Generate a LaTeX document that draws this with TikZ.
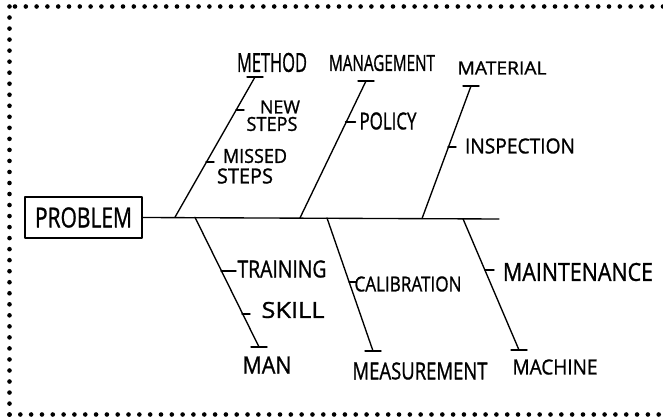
\documentclass[tikz,border=0pt]{standalone}
\usepackage{fontspec}
\setmainfont{Open Sans}
\newfontfamily\handfont{Open Sans}[FakeBold=1.2]
% \hw{width}{height}{text}: caps text stretched to a given ink box
\newcommand{\hw}[3]{\resizebox{#1pt}{#2pt}{\handfont #3}}
\begin{document}
\begin{tikzpicture}[x=1pt,y=-1pt,
  pen/.style={line width=1.35pt, line cap=round, line join=round},
  lbl/.style={inner sep=0pt, outer sep=0pt},
  frame dot/.style={fill=black}]
\useasboundingbox (0,0) rectangle (663,419);

% dotted frame (top, left and bottom)
\foreach \k in {0,...,60} \fill[frame dot] (15+10.8*\k,6.5) circle (2.3);
\foreach \k in {0,...,37} \fill[frame dot] (9.5,6.5+11.03*\k) circle (2.3);
\foreach \k in {0,...,60} \fill[frame dot] (9.5+10.82*\k,414.5) circle (2.3);

% head and spine
\node[draw, pen, minimum width=117pt, minimum height=41pt, inner sep=0pt]
  (problem) at (83.5,217.5) {\hw{97}{20}{PROBLEM}};
\coordinate (spineEnd) at (499,219);
\draw[pen] (problem.east) -- (spineEnd);

% main bones: foot on the spine, tip at the category
\coordinate (methodFoot) at (175,217.2);  \coordinate (methodTip) at (255,77);
\coordinate (mgmtFoot)   at (300,217.9);  \coordinate (mgmtTip)   at (366,81);
\coordinate (matFoot)    at (422,218.6);  \coordinate (matTip)    at (471,86);
\coordinate (manFoot)    at (195,217.3);  \coordinate (manTip)    at (259,347);
\coordinate (measFoot)   at (327,218);    \coordinate (measTip)   at (373,351);
\coordinate (machFoot)   at (463,218.8);  \coordinate (machTip)   at (519,350);

\foreach \f/\t in {methodFoot/methodTip, mgmtFoot/mgmtTip, matFoot/matTip,
                   manFoot/manTip, measFoot/measTip, machFoot/machTip}{
  \draw[pen] (\f) -- (\t);
  \draw[pen] ([xshift=-8pt]\t) -- ([xshift=8pt]\t);
}

% small bones
\coordinate (newRoot)    at (236,110);
\coordinate (missedRoot) at (206,162);
\coordinate (policyRoot) at (345.5,122);
\coordinate (inspRoot)   at (448,147);
\coordinate (trainRoot)  at (221,271);
\coordinate (skillRoot)  at (242,314);
\coordinate (calibRoot)  at (349,282);
\coordinate (maintRoot)  at (485,270);
\foreach \r/\l in {newRoot/8, missedRoot/8, policyRoot/10, inspRoot/8,
                   trainRoot/15, skillRoot/8, calibRoot/7, maintRoot/9}
  \draw[pen] (\r) -- ([xshift=\l pt]\r);

% category labels
\node[lbl] (lMethod) at (272,62.5) {\hw{70}{19}{METHOD}};
\node[lbl] (lMgmt)   at (382,63)   {\hw{106}{16}{MANAGEMENT}};
\node[lbl] (lMat)    at (502,68)   {\hw{89}{13}{MATERIAL}};
\node[lbl] (lMan)    at (267,365)  {\hw{49}{17}{MAN}};
\node[lbl] (lMeas)   at (420,371)  {\hw{135}{17}{MEASUREMENT}};
\node[lbl] (lMach)   at (555,367)  {\hw{85}{15}{MACHINE}};

% cause labels
\node[lbl] (lNew)    at (280,107)  {\hw{40}{13}{NEW}};
\node[lbl] (lSteps)  at (272,124)  {\hw{51}{14}{STEPS}};
\node[lbl] (lMissed) at (255,156)  {\hw{64}{14}{MISSED}};
\node[lbl] (lSteps2) at (245,176)  {\hw{56}{15}{STEPS}};
\node[lbl] (lPolicy) at (388,121)  {\hw{57}{17}{POLICY}};
\node[lbl] (lInsp)   at (520,146)  {\hw{110}{15}{INSPECTION}};
\node[lbl] (lTrain)  at (282,269)  {\hw{89}{17}{TRAINING}};
\node[lbl] (lSkill)  at (293,310)  {\hw{63}{16}{SKILL}};
\node[lbl] (lCalib)  at (408,284)  {\hw{107}{15}{CALIBRATION}};
\node[lbl] (lMaint)  at (578,272)  {\hw{150}{18}{MAINTENANCE}};
\end{tikzpicture}
\end{document}
